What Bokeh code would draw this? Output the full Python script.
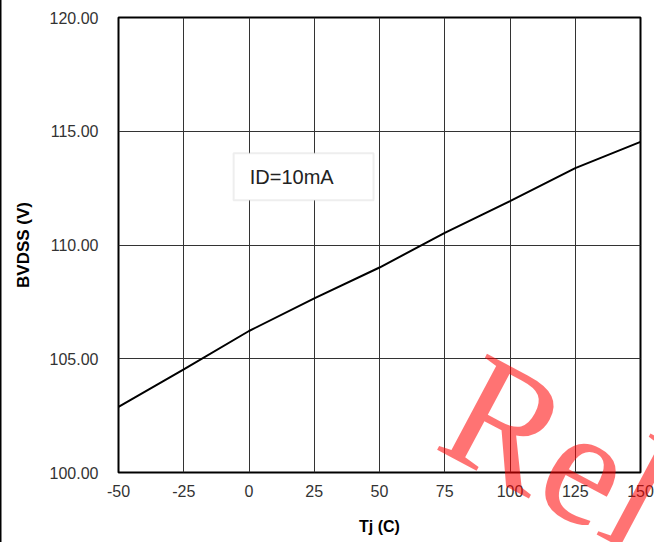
from bokeh.plotting import figure
from bokeh.models import Range1d, FixedTicker, NumeralTickFormatter, BoxAnnotation, Label, Div
from bokeh.layouts import column
from bokeh.embed import file_html
from bokeh.resources import INLINE

# Data
tj = [-50, -25, 0, 25, 50, 75, 100, 125, 150]
bvdss = [102.88, 104.53, 106.22, 107.65, 109.01, 110.53, 111.93, 113.38, 114.53]
x_ticks = [-50, -25, 0, 25, 50, 75, 100, 125, 150]
y_ticks = [100, 105, 110, 115, 120]

p = figure(width=654, height=542, output_backend="svg", toolbar_location=None,
           x_range=Range1d(-50, 150), y_range=Range1d(100, 120),
           min_border_left=118, min_border_right=14, min_border_top=17, min_border_bottom=70)
p.background_fill_color = "white"
p.border_fill_color = "white"
p.outline_line_color = "black"
p.outline_line_width = 2

p.line(tj, bvdss, line_color="black", line_width=2)

for ax in (p.xaxis, p.yaxis):
    ax.axis_line_color = None
    ax.major_tick_line_color = None
    ax.minor_tick_line_color = None
    ax.major_label_text_font = "Liberation Sans"
    ax.major_label_text_font_size = "16px"
    ax.major_label_text_color = "#333333"
    ax.axis_label_text_font = "Liberation Sans"
    ax.axis_label_text_font_style = "bold"
    ax.axis_label_text_color = "#000000"

p.xaxis.ticker = FixedTicker(ticks=x_ticks)
p.yaxis.ticker = FixedTicker(ticks=y_ticks)
p.xaxis.formatter = NumeralTickFormatter(format="0")
p.yaxis.formatter = NumeralTickFormatter(format="0.00")
p.xaxis.major_label_standoff = 6
p.yaxis.major_label_standoff = 14
p.xaxis.axis_label = "Tj (C)"
p.yaxis.axis_label = "BVDSS (V)"
p.xaxis.axis_label_text_font_size = "16px"
p.yaxis.axis_label_text_font_size = "17px"
p.xaxis.axis_label_standoff = 18
p.yaxis.axis_label_standoff = 14

p.xgrid.ticker = FixedTicker(ticks=x_ticks)
p.ygrid.ticker = FixedTicker(ticks=y_ticks)
for g in (p.xgrid, p.ygrid):
    g.grid_line_color = "#333333"
    g.grid_line_width = 1

# annotation box
p.add_layout(BoxAnnotation(left=-5.9, right=47.7, bottom=111.97, top=114.03,
                           fill_color="white", fill_alpha=1.0,
                           line_color="#c8c8c8", line_width=2))
p.add_layout(Label(x=0.3, y=113.0, text="ID=10mA", text_font="Liberation Sans",
                   text_font_size="20px", text_color="#222222", text_baseline="middle"))

# overlay: watermark and page edge line
overlay_html = (
    '<svg xmlns="http://www.w3.org/2000/svg" width="654" height="542" '
    'style="display:block;pointer-events:none">'
    '<rect x="0" y="0" width="1.5" height="542" fill="black"/>'
    '<text x="432" y="447" transform="rotate(28 432 447)" '
    'style="font-family:\'Liberation Serif\',\'Times New Roman\',serif !important;'
    'font-size:165px;font-weight:normal;fill:#ff0000;fill-opacity:0.55">Rel</text>'
    '</svg>'
)
ov = Div(text=overlay_html, width=654, height=542, margin=(-542, 0, 0, 0))

layout = column(p, ov)
open("out.html", "w").write(file_html(layout, INLINE))
